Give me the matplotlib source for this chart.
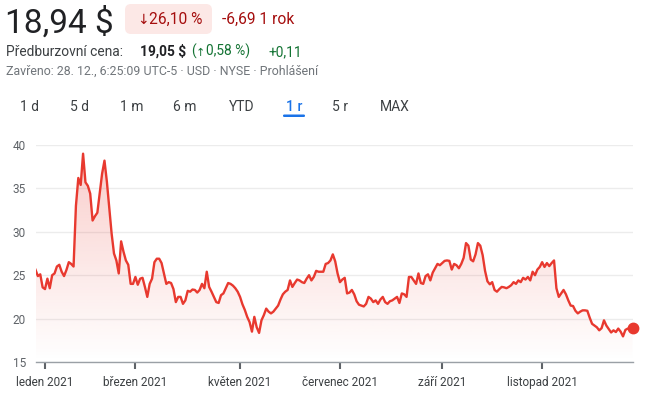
import numpy as np
import matplotlib
matplotlib.use("Agg")
import matplotlib.pyplot as plt
from matplotlib.colors import to_rgb
from matplotlib.patches import FancyBboxPatch, Polygon

plt.rcParams['font.family'] = ['Roboto', 'DejaVu Sans']

# daily closing prices, one per trading day (28. 12. 2020 .. 27. 12. 2021)
prices = [
    25.63, 24.9, 25.1, 23.6, 23.4, 24.6, 23.5, 25.0, 25.2, 26.0,
    26.2, 25.4, 24.9, 25.6, 26.5, 26.3, 26.0, 33.0, 36.2, 35.4,
    39.0, 35.7, 35.3, 34.4, 31.3, 31.8, 32.2, 34.4, 36.7, 38.2,
    35.8, 32.8, 29.8, 27.5, 26.7, 25.2, 28.9, 27.7, 26.7, 26.2,
    24.0, 24.0, 24.8, 23.9, 24.6, 24.7, 23.65, 22.5, 24.0, 24.6,
    26.5, 26.9, 26.9, 26.4, 25.2, 24.0, 24.2, 24.1, 23.4, 21.9,
    22.5, 22.5, 21.7, 22.1, 23.2, 23.1, 23.35, 23.3, 23.0, 23.3,
    24.0, 23.5, 25.4, 23.65, 23.1, 22.5, 21.9, 21.8, 22.7, 22.9,
    23.5, 24.1, 24.0, 23.8, 23.5, 23.1, 22.5, 21.65, 21.0, 20.2,
    19.6, 18.5, 20.2, 19.0, 18.35, 19.8, 20.4, 21.15, 20.8, 20.6,
    20.8, 21.15, 21.5, 22.2, 22.8, 23.1, 23.3, 24.4, 23.65, 24.1,
    24.5, 24.4, 24.2, 24.1, 24.6, 25.0, 24.4, 24.8, 25.5, 25.4,
    25.4, 25.4, 26.3, 26.4, 26.7, 27.4, 26.6, 25.2, 24.2, 24.5,
    24.7, 22.9, 23.0, 23.3, 22.8, 22.0, 21.6, 21.5, 21.4, 21.7,
    22.5, 22.3, 21.9, 22.1, 21.7, 22.2, 22.5, 21.9, 21.7, 22.0,
    22.1, 22.3, 22.5, 21.8, 22.9, 22.8, 22.5, 24.8, 24.8, 24.4,
    24.0, 25.2, 24.1, 24.0, 24.9, 25.1, 24.4, 25.3, 25.8, 26.3,
    26.15, 26.4, 26.65, 26.7, 26.65, 25.65, 26.3, 26.15, 25.8, 26.3,
    27.0, 28.7, 28.4, 26.8, 26.6, 27.4, 28.7, 28.4, 27.3, 25.5,
    24.3, 23.95, 24.2, 23.3, 23.1, 23.4, 23.65, 23.6, 23.5, 23.65,
    23.85, 24.2, 24.0, 24.4, 24.2, 24.7, 24.5, 24.8, 24.4, 25.4,
    25.0, 25.65, 25.95, 26.5, 25.95, 26.4, 26.05, 26.4, 26.7, 23.5,
    22.5, 22.9, 23.3, 22.8, 22.1, 21.5, 21.45, 20.9, 20.6, 20.8,
    20.95, 20.95, 20.9, 20.1, 19.4, 19.2, 19.0, 18.65, 18.9, 19.8,
    19.2, 18.8, 18.4, 18.65, 18.45, 18.85, 18.5, 17.95, 18.7, 18.85,
    18.75, 18.94,
]

# first trading day of each labelled month (index into prices)
month_pos = [4, 42, 86, 128, 171, 213]
month_labels = ['leden 2021', 'březen 2021', 'květen 2021',
                'červenec 2021', 'září 2021', 'listopad 2021']
y_ticks = [15, 20, 25, 30, 35, 40]

# header texts
price_now = '18,94 $'
change_pct = '26,10 %'
change_abs = '-6,69 1 rok'
pre_label = 'Předburzovní cena:'
pre_price = '19,05 $'
pre_pct = '0,58 %)'
pre_abs = '+0,11'
info_line = 'Zavřeno: 28. 12., 6:25:09 UTC-5 · USD · NYSE · Prohlášení'
tabs = ['1 d', '5 d', '1 m', '6 m', 'YTD', '1 r', '5 r', 'MAX']
tab_x = [30, 80, 132, 185, 242, 294, 340, 395]
active_tab = '1 r'

W, H = 650, 397
RED = '#e8392f'
DARK_RED = '#a50e0e'
GREEN = '#137333'
BLUE = '#1a73e8'


def main():
    fig = plt.figure(figsize=(W / 100, H / 100), dpi=100)
    fig.patch.set_facecolor('white')

    # overlay in pixel coordinates for the header
    over = fig.add_axes([0, 0, 1, 1])
    over.set_xlim(0, W)
    over.set_ylim(H, 0)
    over.axis('off')

    over.text(5, 33, price_now, fontsize=24, color='#202124', va='baseline')
    over.add_patch(FancyBboxPatch((125, 4), 87, 30,
                                  boxstyle='round,pad=0,rounding_size=6',
                                  fc='#fce8e6', ec='none'))
    over.text(142.5, 24, '↓', fontsize=10, color=DARK_RED, ha='center',
              va='baseline', family='DejaVu Sans')
    over.text(149, 24, change_pct, fontsize=11.2, color=DARK_RED, va='baseline')
    over.text(222, 24, change_abs, fontsize=11.2, color=DARK_RED, va='baseline')

    over.text(6, 56, pre_label, fontsize=9.9, color='#3c4043', va='baseline')
    over.text(140, 56, pre_price, fontsize=9.9, color='#202124',
              fontweight='bold', va='baseline')
    over.text(191, 56, '(', fontsize=9.9, color=GREEN, va='baseline')
    over.text(200, 55.5, '↑', fontsize=8, color=GREEN, ha='center',
              va='baseline', family='DejaVu Sans')
    over.text(206, 56, pre_pct, fontsize=9.9, color=GREEN, va='baseline')
    over.text(268, 56, pre_abs, fontsize=9.9, color=GREEN, va='baseline')
    over.text(6, 75, info_line, fontsize=8.9, color='#70757a', va='baseline')

    for label, x in zip(tabs, tab_x):
        active = label == active_tab
        over.text(x, 111, label, fontsize=10, ha='center', va='baseline',
                  color=BLUE if active else '#3c4043',
                  fontweight='medium' if active else 'normal')
        if active:
            over.add_patch(FancyBboxPatch((x - 11, 114.5), 22, 2.5,
                                          boxstyle='round,pad=0,rounding_size=1.2',
                                          fc=BLUE, ec='none'))

    # price chart
    n = len(prices)
    x = np.arange(n)
    y = np.array(prices)

    ax = fig.add_axes([35.5 / W, 35 / H, (633 - 35.5) / W, 217 / H])
    ax.set_xlim(0, n - 0.8)
    ax.set_ylim(15, 40)
    ax.patch.set_alpha(0)

    # gradient fill under the line
    grad = np.zeros((256, 1, 4))
    grad[..., :3] = to_rgb(RED)
    grad[:, 0, 3] = np.linspace(0.26, 0.0, 256)
    im = ax.imshow(grad, extent=[0, n - 1, 15, 40], aspect='auto',
                   origin='upper', zorder=1)
    verts = np.column_stack([np.r_[x, x[::-1]], np.r_[y, np.full(n, 15.0)]])
    clip = Polygon(verts, closed=True, fc='none', ec='none', transform=ax.transData)
    ax.add_patch(clip)
    im.set_clip_path(clip)

    ax.plot(x, y, color=RED, lw=1.7, zorder=3, solid_joinstyle='round')
    ax.plot(x[-1], y[-1], 'o', color=RED, ms=7.5, zorder=4, clip_on=False)

    ax.set_yticks(y_ticks)
    ax.grid(axis='y', color='#ececec', lw=1)
    ax.set_axisbelow(True)
    ax.tick_params(axis='y', length=0, pad=7, labelsize=8.5, labelcolor='#5f6368')

    ax.set_xticks(month_pos)
    ax.set_xticklabels(month_labels)
    ax.tick_params(axis='x', length=5, width=1.5, color='#5f6368', pad=5,
                   labelsize=8.5, labelcolor='#3c4043')

    for side in ['top', 'right', 'left']:
        ax.spines[side].set_visible(False)
    ax.spines['bottom'].set_color('#9aa0a6')
    ax.spines['bottom'].set_linewidth(1)

    fig.savefig('out.png', dpi=100)


if __name__ == "__main__":
    main()
